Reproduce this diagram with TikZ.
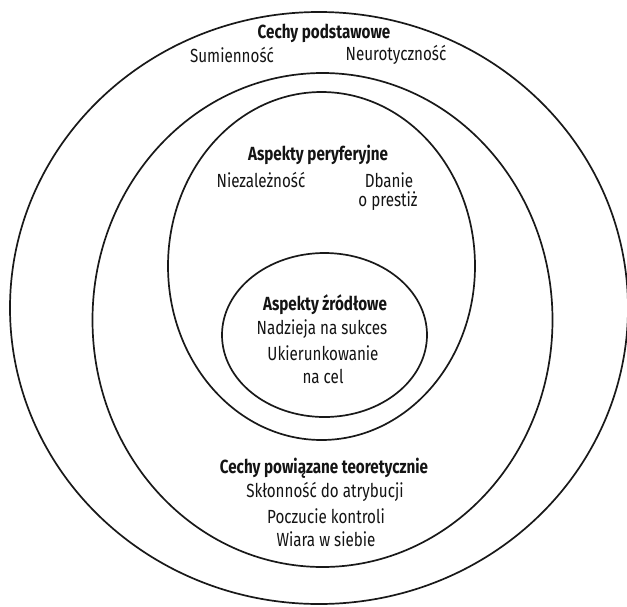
\documentclass[tikz,border=0pt]{standalone}
\usepackage{fontspec}
\setmainfont{Fira Sans}[FakeStretch=0.80]
\begin{document}
\begin{tikzpicture}[x=1pt,y=-1pt,
  ring/.style={line width=1.7pt,black!90},
  lbl/.style={font=\fontsize{19}{21}\selectfont,text=black!92,inner sep=0pt,align=center},
  head/.style={lbl,font=\fontsize{19}{21}\selectfont\bfseries}]
\useasboundingbox (0,0) rectangle (627,606);
\fill[white] (0,0) rectangle (627,606);
\begin{scope}
\clip (0,0) rectangle (627,606);
\draw[ring] (319,308) ellipse [x radius=309,y radius=296];
\draw[ring] (322.5,320) ellipse [x radius=230,y radius=247];
\draw[ring] (321.5,266) ellipse [x radius=153.5,y radius=174];
\draw[ring] (324.5,335) ellipse [x radius=102.5,y radius=82];
\end{scope}
\node[head] (c1) at (324,33) {Cechy podstawowe};
\node[lbl] (sum) at (232,55) {Sumienność};
\node[lbl] (neu) at (396,55) {Neurotyczność};
\node[head] (c2) at (318,155) {Aspekty peryferyjne};
\node[lbl] (nie) at (261,180) {Niezależność};
\node[lbl] (dba) at (389,180) {Dbanie};
\node[lbl] (pre) at (388,201) {o prestiż};
\node[head] (c3) at (325,305) {Aspekty źródłowe};
\node[lbl] (nad) at (322,329) {Nadzieja na sukces};
\node[lbl] (uki) at (323,353) {Ukierunkowanie};
\node[lbl] (cel) at (323,376) {na cel};
\node[head] (c4) at (324,468) {Cechy powiązane teoretycznie};
\node[lbl] (skl) at (325,492) {Skłonność do atrybucji};
\node[lbl] (pocz) at (326,516) {Poczucie kontroli};
\node[lbl] (wia) at (326,539) {Wiara w siebie};
\end{tikzpicture}
\end{document}
